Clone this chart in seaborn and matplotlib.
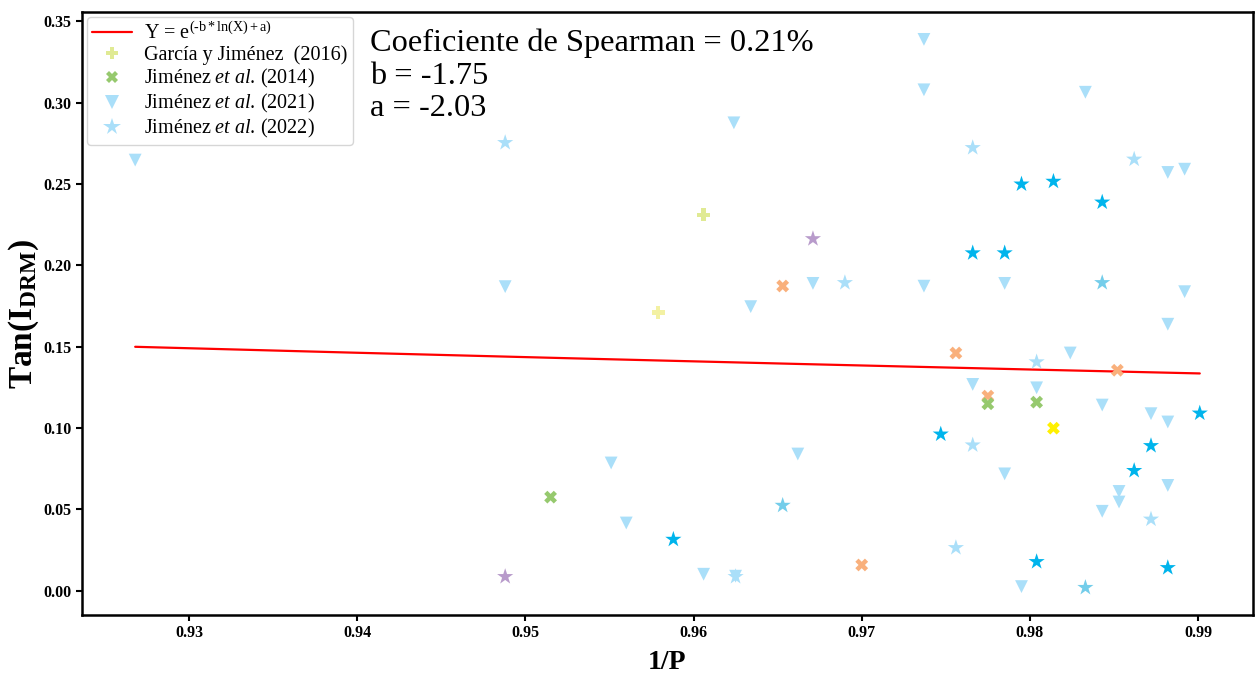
import numpy as np
import pandas as pd
import matplotlib
matplotlib.use("Agg")
import matplotlib.pyplot as plt
import seaborn as sns
from matplotlib.lines import Line2D

# ---------------- data ----------------
# Jiménez et al. (2021) - triangles
tri_x = [0.9268, 0.9488, 0.9551, 0.9560, 0.9606, 0.9625, 0.9624, 0.9634, 0.9671, 0.9662,
         0.9737, 0.9737, 0.9833, 0.9882, 0.9892, 0.9737, 0.9785, 0.9892, 0.9882, 0.9824,
         0.9766, 0.9804, 0.9843, 0.9872, 0.9882, 0.9785, 0.9882, 0.9853, 0.9853, 0.9843,
         0.9795]
tri_y = [0.2648, 0.1870, 0.0786, 0.0417, 0.0102, 0.0090, 0.2877, 0.1747, 0.1890, 0.0841,
         0.3390, 0.3080, 0.3065, 0.2572, 0.2592, 0.1873, 0.1890, 0.1839, 0.1639, 0.1462,
         0.1269, 0.1248, 0.1142, 0.1089, 0.1038, 0.0719, 0.0648, 0.0611, 0.0546, 0.0489,
         0.0026]

# Jiménez et al. (2022) - stars, several shades
star_light_x = [0.9488, 0.9625, 0.9690, 0.9766, 0.9862, 0.9804, 0.9766, 0.9872, 0.9756]
star_light_y = [0.2755, 0.0087, 0.1894, 0.2724, 0.2653, 0.1407, 0.0896, 0.0440, 0.0265]
star_mid_x = [0.9653, 0.9843, 0.9833]
star_mid_y = [0.0525, 0.1894, 0.0020]
star_dark_x = [0.9588, 0.9795, 0.9814, 0.9843, 0.9766, 0.9785, 0.9901, 0.9747, 0.9872,
               0.9862, 0.9804, 0.9882]
star_dark_y = [0.0316, 0.2500, 0.2517, 0.2389, 0.2077, 0.2077, 0.1092, 0.0963, 0.0892,
               0.0739, 0.0179, 0.0142]
star_purple_x = [0.9488, 0.9671]
star_purple_y = [0.0087, 0.2164]

# Jiménez et al. (2014) - X markers, several shades
x_orange_x = [0.9653, 0.9700, 0.9756, 0.9852, 0.9775]
x_orange_y = [0.1874, 0.0159, 0.1462, 0.1356, 0.1197]
x_green_x = [0.9515, 0.9775, 0.9804]
x_green_y = [0.0576, 0.1150, 0.1160]
x_yellow_x = [0.9814]
x_yellow_y = [0.1000]

# García y Jiménez (2016) - plus markers
plus_x = [0.9579, 0.9606]
plus_y = [0.1710, 0.2311]

# fit parameters
b_coef = -1.75
a_coef = -2.03
spearman = 0.21

legend_labels = ["Y = e$^{\\mathrm{(\u2010b*ln(X)+a)}}$",
                 "García y Jiménez  (2016)",
                 "Jiménez $\\it{et\\ al}$. (2014)",
                 "Jiménez $\\it{et\\ al}$. (2021)",
                 "Jiménez $\\it{et\\ al}$. (2022)"]

# ---------------- styling ----------------
sns.set_style("ticks")
plt.rcParams['font.family'] = ['Liberation Serif', 'DejaVu Serif']
plt.rcParams['mathtext.fontset'] = 'custom'
plt.rcParams['mathtext.rm'] = 'Liberation Serif'
plt.rcParams['mathtext.it'] = 'Liberation Serif:italic'
plt.rcParams['mathtext.bf'] = 'Liberation Serif:bold'
plt.rcParams['text.color'] = 'black'
plt.rcParams['axes.labelcolor'] = 'black'
plt.rcParams['xtick.color'] = 'black'
plt.rcParams['ytick.color'] = 'black'

c_tri = "#aadff9"
c_light = "#aadff9"
c_mid = "#74cdea"
c_dark = "#00b4ec"
c_purple = "#b89bcb"
c_orange = "#f9b07c"
c_green = "#96c96e"
c_yellow = "#fff000"
c_plus1 = "#f3f1a3"
c_plus2 = "#e0ea94"

rows = []
def add(xs, ys, group, shade):
    for xx, yy in zip(xs, ys):
        rows.append(dict(x=xx, y=yy, group=group, shade=shade))

add(tri_x, tri_y, "tri", "tri")
add(plus_x[:1], plus_y[:1], "plus", "plus1")
add(plus_x[1:], plus_y[1:], "plus", "plus2")
add(x_orange_x, x_orange_y, "xm", "orange")
add(x_green_x, x_green_y, "xm", "green")
add(x_yellow_x, x_yellow_y, "xm", "yellow")
add(star_purple_x, star_purple_y, "star", "purple")
add(star_light_x, star_light_y, "star", "light")
add(star_mid_x, star_mid_y, "star", "mid")
add(star_dark_x, star_dark_y, "star", "dark")
df = pd.DataFrame(rows)

palette = {"tri": c_tri, "plus1": c_plus1, "plus2": c_plus2, "orange": c_orange,
           "green": c_green, "yellow": c_yellow, "purple": c_purple,
           "light": c_light, "mid": c_mid, "dark": c_dark}
markers = {"tri": "v", "plus": "P", "xm": "X", "star": "*"}

fig = plt.figure(figsize=(12.55, 6.77), dpi=100)
ax = fig.add_axes([0.0653, 0.0916, 0.9331, 0.8907])

# fitted curve
all_x = np.array(df["x"])
xs = np.linspace(all_x.min(), all_x.max(), 200)
ys = np.exp(b_coef * np.log(xs) + a_coef)
ax.plot(xs, ys, color="red", lw=1.6, zorder=1)

sizes = {"tri": 85, "plus": 90, "xm": 85, "star": 150}
for g in ["tri", "plus", "xm", "star"]:
    sub = df[df["group"] == g]
    sns.scatterplot(data=sub, x="x", y="y", hue="shade", palette=palette,
                    marker=markers[g], s=sizes[g], linewidth=0, legend=False,
                    ax=ax, zorder=2)

ax.text(0.246, 0.972, f"Coeficiente de Spearman = {spearman}%\nb = {b_coef}\na = {a_coef}",
        transform=ax.transAxes, ha="left", va="top", fontsize=23.3, linespacing=1.16,
        color="black")

ax.set_xlabel("1/P", fontsize=20, fontweight="bold", labelpad=6)
ax.set_ylabel("Tan(I$_{\\mathbf{DRM}}$)", fontsize=24, fontweight="bold", labelpad=2)

ax.set_yticks(np.arange(0, 0.351, 0.05))
ax.set_xticks(np.arange(0.93, 0.9901, 0.01))
ax.xaxis.set_major_formatter(matplotlib.ticker.FormatStrFormatter("%.2f"))
ax.yaxis.set_major_formatter(matplotlib.ticker.FormatStrFormatter("%.2f"))
ax.tick_params(axis="both", labelsize=11.5, length=4, width=1.5, direction="out",
               color="black", labelcolor="black")
for lab in ax.get_xticklabels() + ax.get_yticklabels():
    lab.set_fontweight("bold")
for sp in ax.spines.values():
    sp.set_linewidth(1.8)
    sp.set_color("black")

handles = [Line2D([], [], color="red", lw=1.6),
           Line2D([], [], marker="P", ls="", color=c_plus2, ms=9, mew=0),
           Line2D([], [], marker="X", ls="", color=c_green, ms=9, mew=0),
           Line2D([], [], marker="v", ls="", color=c_tri, ms=10, mew=0),
           Line2D([], [], marker="*", ls="", color=c_light, ms=13, mew=0)]
leg = ax.legend(handles, legend_labels, loc="upper left", fontsize=14.5,
                labelspacing=0.1, borderpad=0.25, handlelength=2.0, handletextpad=0.6,
                borderaxespad=0.25, frameon=True)
for t in leg.get_texts():
    t.set_color("black")

fig.savefig("out.png", dpi=100)
